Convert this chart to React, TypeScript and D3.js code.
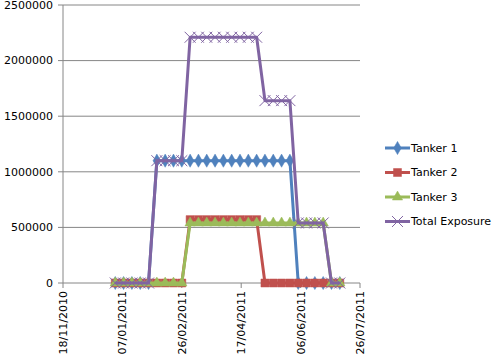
import React from 'react';
import * as d3 from 'd3';

// weekly dates (dd/mm/yyyy)
const dates = [
  '01/01/2011', '08/01/2011', '15/01/2011', '22/01/2011', '29/01/2011',
  '05/02/2011', '12/02/2011', '19/02/2011', '26/02/2011',
  '05/03/2011', '12/03/2011', '19/03/2011', '26/03/2011',
  '02/04/2011', '09/04/2011', '16/04/2011', '23/04/2011', '30/04/2011',
  '07/05/2011', '14/05/2011', '21/05/2011', '28/05/2011',
  '04/06/2011', '11/06/2011', '18/06/2011', '25/06/2011',
  '02/07/2011', '09/07/2011',
];

const tanker1 = [
  0, 0, 0, 0, 0,
  1100000, 1100000, 1100000, 1100000,
  1100000, 1100000, 1100000, 1100000,
  1100000, 1100000, 1100000, 1100000, 1100000,
  1100000, 1100000, 1100000, 1100000,
  0, 0, 0, 0,
  0, 0,
];

const tanker2 = [
  0, 0, 0, 0, 0,
  0, 0, 0, 0,
  570000, 570000, 570000, 570000,
  570000, 570000, 570000, 570000, 570000,
  0, 0, 0, 0,
  0, 0, 0, 0,
  0, 0,
];

const tanker3 = [
  0, 0, 0, 0, 0,
  0, 0, 0, 0,
  540000, 540000, 540000, 540000,
  540000, 540000, 540000, 540000, 540000,
  540000, 540000, 540000, 540000,
  540000, 540000, 540000, 540000,
  0, 0,
];

const totalExposure = [
  0, 0, 0, 0, 0,
  1100000, 1100000, 1100000, 1100000,
  2210000, 2210000, 2210000, 2210000,
  2210000, 2210000, 2210000, 2210000, 2210000,
  1640000, 1640000, 1640000, 1640000,
  540000, 540000, 540000, 540000,
  0, 0,
];

const xTickLabels = ['18/11/2010', '07/01/2011', '26/02/2011', '17/04/2011', '06/06/2011', '26/07/2011'];
const yTicks = [0, 500000, 1000000, 1500000, 2000000, 2500000];

const seriesNames = ['Tanker 1', 'Tanker 2', 'Tanker 3', 'Total Exposure'];
const seriesColors = ['#4F81BD', '#C0504D', '#9BBB59', '#8064A2'];

const parseDate = d3.utcParse('%d/%m/%Y');
const FONT = 'DejaVu Sans, Verdana, sans-serif';

const plot = { left: 63, right: 360, top: 5, bottom: 283 };

// marker paths, centred on 0,0
const markerPath = (i: number) => {
  if (i === 0) return d3.symbol(d3.symbolDiamond, 50)()!;
  if (i === 1) return d3.symbol(d3.symbolSquare, 64)()!;
  if (i === 2) return d3.symbol(d3.symbolTriangle, 46)()!;
  return d3.symbol(d3.symbolTimes, 80)()!;
};

const Marker = ({ i, x, y }: { i: number; x: number; y: number }) => {
  const c = seriesColors[i];
  if (i === 3) {
    return <path d={markerPath(i)} transform={`translate(${x},${y})`} fill="none" stroke={c} strokeWidth={1} />;
  }
  return <path d={markerPath(i)} transform={`translate(${x},${y})`} fill={c} stroke={c} strokeWidth={0.5} />;
};

export default function App() {
  const x = d3.scaleUtc()
    .domain([parseDate(xTickLabels[0])!, parseDate(xTickLabels[xTickLabels.length - 1])!])
    .range([plot.left, plot.right]);
  const y = d3.scaleLinear().domain([0, 2500000]).range([plot.bottom, plot.top]);

  const allSeries = [tanker1, tanker2, tanker3, totalExposure];
  const pts = dates.map(d => parseDate(d)!);

  const line = d3.line<[Date, number]>()
    .x(d => x(d[0]))
    .y(d => y(d[1]));

  const legendY = [148, 172.5, 197, 221.5];

  return (
    <svg width={504} height={359} style={{ position: 'absolute', left: 0, top: 0, background: '#fff' }}>
      <rect x={0} y={0} width={504} height={359} fill="#fff" />
      {/* gridlines */}
      {yTicks.map(t => (
        <line key={t} x1={plot.left} x2={plot.right} y1={y(t)} y2={y(t)} stroke="#868686" strokeWidth={1} />
      ))}
      {/* y axis */}
      <line x1={plot.left} x2={plot.left} y1={plot.top} y2={plot.bottom} stroke="#868686" />
      {yTicks.map(t => (
        <g key={'yt' + t}>
          <line x1={plot.left - 5} x2={plot.left} y1={y(t)} y2={y(t)} stroke="#868686" />
          <text x={53} y={y(t)} dy="0.35em" textAnchor="end" fontFamily={FONT} fontSize={11} fill="#000">{t}</text>
        </g>
      ))}
      {/* x axis */}
      {xTickLabels.map(l => {
        const px = x(parseDate(l)!);
        return (
          <g key={l}>
            <line x1={px} x2={px} y1={plot.bottom} y2={plot.bottom + 5} stroke="#868686" />
            <text transform={`translate(${px + 4},${plot.bottom + 8}) rotate(-90)`} textAnchor="end"
              fontFamily={FONT} fontSize={11} fill="#000">{l}</text>
          </g>
        );
      })}
      {/* series */}
      {allSeries.map((s, i) => (
        <g key={seriesNames[i]}>
          <path d={line(pts.map((p, j) => [p, s[j]] as [Date, number]))!} fill="none"
            stroke={seriesColors[i]} strokeWidth={3} strokeLinejoin="round" />
          {pts.map((p, j) => <Marker key={j} i={i} x={x(p)} y={y(s[j])} />)}
        </g>
      ))}
      {/* legend */}
      {seriesNames.map((n, i) => (
        <g key={'lg' + n}>
          <line x1={385} x2={410} y1={legendY[i]} y2={legendY[i]} stroke={seriesColors[i]} strokeWidth={3} />
          <Marker i={i} x={397.5} y={legendY[i]} />
          <text x={411} y={legendY[i]} dy="0.35em" fontFamily={FONT} fontSize={11} fill="#000">{n}</text>
        </g>
      ))}
    </svg>
  );
}
